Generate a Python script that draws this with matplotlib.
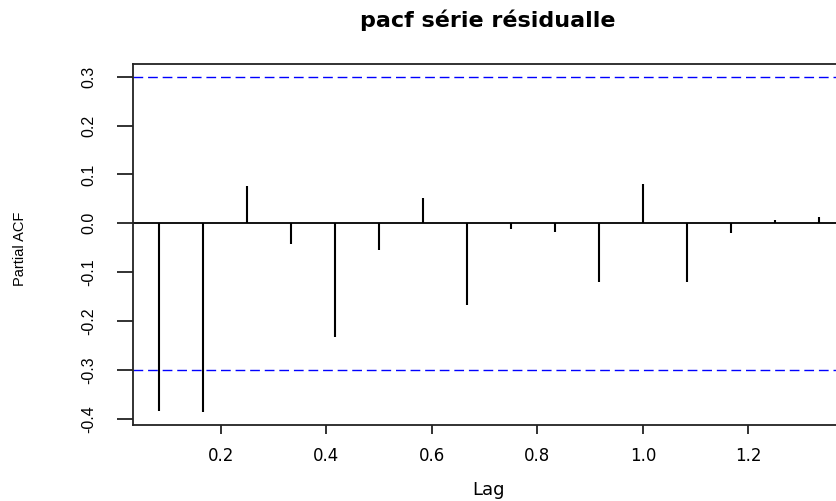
import numpy as np
import matplotlib
matplotlib.use("Agg")
import matplotlib.pyplot as plt

# partial autocorrelations (monthly series, lag in years)
lags = np.arange(1, 17) / 12
pacf_vals = [-0.384, -0.386, 0.077, -0.043, -0.233, -0.055, 0.051, -0.168,
             -0.011, -0.017, -0.119, 0.080, -0.121, -0.019, 0.006, 0.014]
clim = 0.299  # 95% confidence bound
xticks = [0.2, 0.4, 0.6, 0.8, 1.0, 1.2]
yticks = [-0.4, -0.3, -0.2, -0.1, 0.0, 0.1, 0.2, 0.3]

plt.rcParams['axes.unicode_minus'] = False
plt.rcParams['font.family'] = ['DejaVu Sans']

fig = plt.figure(figsize=(8.36, 5.01), dpi=100)
# the original is cropped on the right, so the axes box runs past the figure edge
ax = fig.add_axes([0.1591, 0.1517, 0.8517, 0.7206])

ax.vlines(lags, 0, pacf_vals, color='black', lw=1.5)
ax.axhline(0, color='black', lw=1.3)
ax.axhline(clim, color='blue', lw=1, ls=(0, (7, 3.5)))
ax.axhline(-clim, color='blue', lw=1, ls=(0, (7, 3.5)))

ax.set_xlim(0.0333, 1.3833)
ax.set_ylim(-0.4125, 0.326)
ax.set_xticks(xticks)
ax.set_xticklabels(['%.1f' % v for v in xticks])
ax.set_yticks(yticks)
ax.set_yticklabels(['%.1f' % v for v in yticks], family='Liberation Sans')

for s in ax.spines.values():
    s.set_linewidth(1.3)
    s.set_color('#222222')

ax.tick_params(axis='x', length=6.5, width=1.3, pad=9, labelsize=12, color='#222222')
ax.tick_params(axis='y', length=11.5, width=1.3, pad=15, labelsize=11.5,
               labelrotation=90, color='#222222')
for lab in ax.get_yticklabels():
    lab.set_va('center')

fig.text(488 / 836, 1 - 20 / 501, 'pacf série résidualle', ha='center', va='center',
         fontsize=16, fontweight='bold')
fig.text(489 / 836, 1 - 490 / 501, 'Lag', ha='center', va='center', fontsize=13)
fig.text(20 / 836, 1 - 249 / 501, 'Partial ACF', ha='center', va='center',
         rotation=90, fontsize=10.5, family='Liberation Sans')

fig.savefig('out.png', dpi=100)
